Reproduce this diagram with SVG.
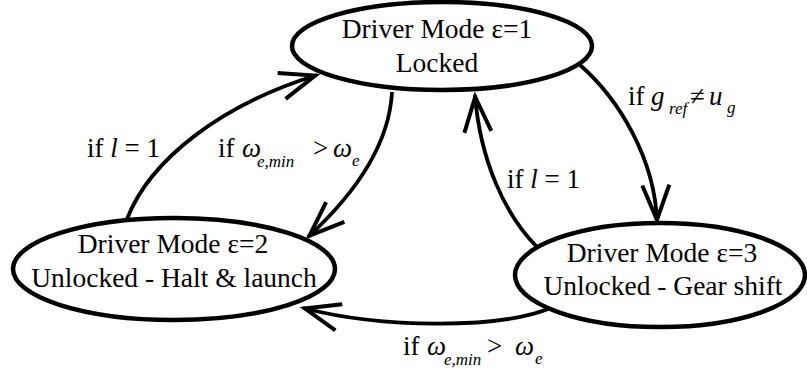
<svg xmlns="http://www.w3.org/2000/svg" width="807" height="377" viewBox="0 0 807 377">
  <style>
    .state { fill: #ffffff; stroke: #000000; stroke-width: 4.5; }
    .edge { fill: none; stroke: #000000; stroke-width: 3.8; }
  </style>
  <defs>
    <marker id="open-arrow" markerUnits="userSpaceOnUse" markerWidth="50" markerHeight="40" refX="0" refY="0" orient="auto" overflow="visible">
      <path d="M-37,-13.5 L-2,0 L-37,13.5" fill="none" stroke="#000000" stroke-width="4" stroke-linejoin="miter"/>
    </marker>
  </defs>

  <rect width="807" height="377" fill="#ffffff"/>

  <!-- transitions between driver modes -->
  <g id="connectors">
    <path class="edge" marker-end="url(#open-arrow)" d="M127,219 C150,160 220,105 317,75"/>
    <path class="edge" marker-end="url(#open-arrow)" d="M392,92 C390,130 370,180 308,237"/>
    <path class="edge" marker-end="url(#open-arrow)" d="M537,247 C505,215 480,160 475,95"/>
    <path class="edge" marker-end="url(#open-arrow)" d="M580,65 C620,100 655,160 657,222"/>
    <path class="edge" marker-end="url(#open-arrow)" d="M553,307 C500,330 380,328 303,308"/>

    <g font-family="Liberation Serif" font-size="27" fill="#000000">
      <text x="87" y="157">if <tspan font-style="italic">l</tspan> = 1</text>
      <text x="218" y="157">if<tspan font-style="italic" x="242">ω</tspan><tspan font-style="italic" font-size="17" x="257" y="167">e,min</tspan><tspan x="313" y="157">&gt;</tspan><tspan font-style="italic" x="333">ω</tspan><tspan font-style="italic" font-size="17" x="352" y="166">e</tspan></text>
      <text x="628" y="105">if<tspan font-style="italic" x="651">g</tspan><tspan font-style="italic" font-size="17" x="669" y="114">ref</tspan><tspan x="690" y="105">≠</tspan><tspan font-style="italic" x="709">u</tspan><tspan font-style="italic" font-size="17" x="727" y="113">g</tspan></text>
      <text x="507" y="188">if <tspan font-style="italic">l</tspan> = 1</text>
      <text x="403" y="355">if<tspan font-style="italic" x="427">ω</tspan><tspan font-style="italic" font-size="17" x="444" y="365">e,min</tspan><tspan x="487" y="355">&gt;</tspan><tspan font-style="italic" x="515">ω</tspan><tspan font-style="italic" font-size="17" x="535" y="364">e</tspan></text>
    </g>
  </g>

  <g id="mode-locked">
    <ellipse class="state" cx="442" cy="46" rx="150" ry="44"/>
    <g font-family="Liberation Serif" font-size="27.5" fill="#000000" text-anchor="middle">
      <text x="437" y="38">Driver Mode ε=1</text>
      <text x="437" y="72">Locked</text>
    </g>
  </g>

  <g id="mode-halt-launch">
    <ellipse class="state" cx="174" cy="269" rx="161" ry="51"/>
    <g font-family="Liberation Serif" font-size="27.5" fill="#000000" text-anchor="middle">
      <text x="173" y="253">Driver Mode ε=2</text>
      <text x="174" y="287">Unlocked - Halt &amp; launch</text>
    </g>
  </g>

  <g id="mode-gear-shift">
    <ellipse class="state" cx="660" cy="275" rx="145" ry="52"/>
    <g font-family="Liberation Serif" font-size="27.5" fill="#000000" text-anchor="middle">
      <text x="662" y="262">Driver Mode ε=3</text>
      <text x="663" y="295">Unlocked - Gear shift</text>
    </g>
  </g>
</svg>
